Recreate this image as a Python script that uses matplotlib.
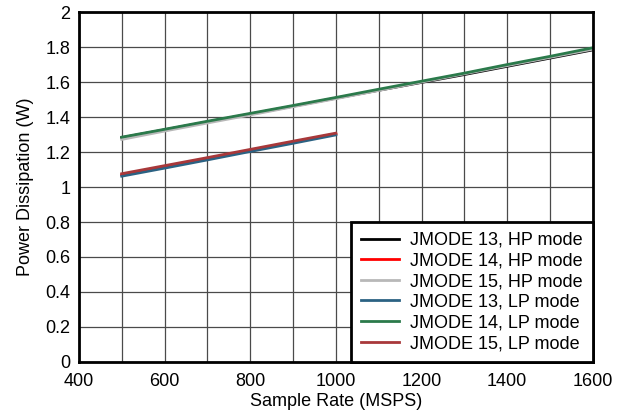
import matplotlib.pyplot as plt

plt.rcParams['font.family'] = ['Liberation Sans', 'DejaVu Sans']

# Sample rates (MSPS)
rate_full = [500, 600, 700, 800, 900, 1000, 1100, 1200, 1300, 1400, 1500, 1600]
rate_half = [500, 600, 700, 800, 900, 1000]

# Power dissipation (W)
jmode13_hp = [1.282, 1.327, 1.372, 1.417, 1.462, 1.508, 1.553, 1.598, 1.643, 1.690, 1.737, 1.784]
jmode14_hp = [1.070, 1.116, 1.162, 1.210, 1.256, 1.304]
jmode15_hp = [1.272, 1.320, 1.366, 1.412, 1.459, 1.505, 1.552, 1.600, 1.647, 1.694, 1.741, 1.788]
jmode13_lp = [1.062, 1.108, 1.155, 1.203, 1.250, 1.298]
jmode14_lp = [1.285, 1.330, 1.376, 1.421, 1.466, 1.512, 1.559, 1.605, 1.651, 1.700, 1.747, 1.796]
jmode15_lp = [1.076, 1.122, 1.168, 1.215, 1.262, 1.308]

fig = plt.figure(figsize=(6.26, 4.17), dpi=100)
ax = fig.add_axes([0.126, 0.132, 0.821, 0.839])

ax.plot(rate_full, jmode13_hp, color='black', lw=2, label='JMODE 13, HP mode')
ax.plot(rate_half, jmode14_hp, color='#ff0000', lw=2, label='JMODE 14, HP mode')
ax.plot(rate_full, jmode15_hp, color='#b8b8b8', lw=2, label='JMODE 15, HP mode')
ax.plot(rate_half, jmode13_lp, color='#2b6283', lw=2, label='JMODE 13, LP mode')
ax.plot(rate_full, jmode14_lp, color='#2b7a4b', lw=2, label='JMODE 14, LP mode')
ax.plot(rate_half, jmode15_lp, color='#a8383a', lw=2, label='JMODE 15, LP mode')

ax.set_xlim(400, 1600)
ax.set_ylim(0, 2)
ax.set_xticks(range(400, 1601, 200))
ax.set_xticks(range(400, 1601, 100), minor=True)
ax.set_yticks([0, 0.2, 0.4, 0.6, 0.8, 1, 1.2, 1.4, 1.6, 1.8, 2])
ax.set_yticklabels(['0', '0.2', '0.4', '0.6', '0.8', '1', '1.2', '1.4', '1.6', '1.8', '2'])
ax.grid(True, which='both', color='#4a4a4a', lw=0.9)
ax.set_axisbelow(True)
ax.tick_params(which='both', length=0, labelsize=13)
ax.tick_params(axis='x', pad=8)
ax.tick_params(axis='y', pad=6)

for s in ax.spines.values():
    s.set_linewidth(2)

ax.set_xlabel('Sample Rate (MSPS)', fontsize=13, labelpad=2)
ax.set_ylabel('Power Dissipation (W)', fontsize=13, labelpad=8)

leg = ax.legend(loc='lower right', borderaxespad=0, fancybox=False, fontsize=13,
                handlelength=2.1, labelspacing=0.2, borderpad=0.55, handletextpad=0.65)
leg.get_frame().set_edgecolor('black')
leg.get_frame().set_linewidth(2)
leg.get_frame().set_alpha(1)

fig.savefig('out.png', dpi=100)
